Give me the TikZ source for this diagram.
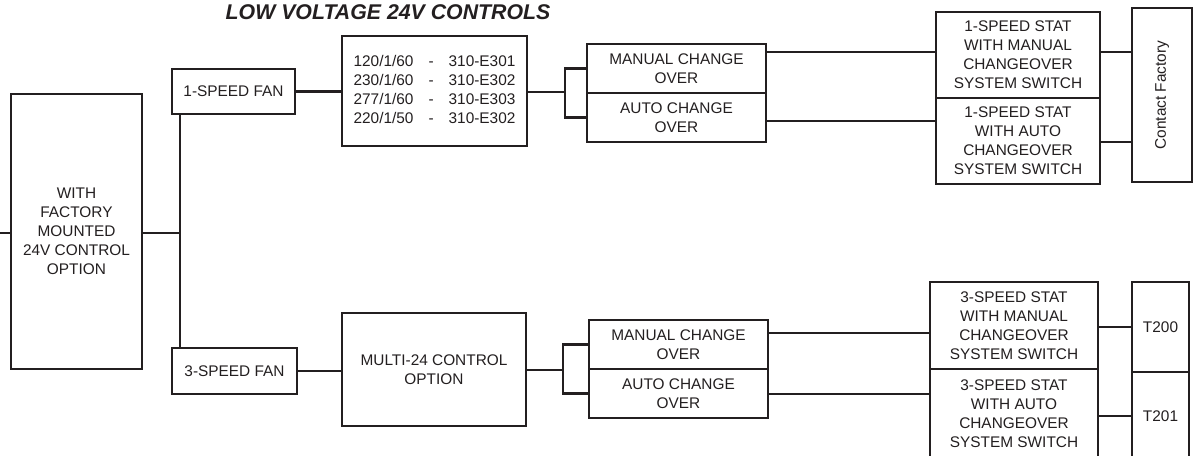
\documentclass[tikz,border=0pt]{standalone}
\usepackage{fontspec}
\setmainfont{Liberation Sans}
\usetikzlibrary{calc}
\definecolor{ink}{HTML}{231F20}
\begin{document}
\begin{tikzpicture}[x=1pt,y=-1pt,
  box/.style={draw=ink, line width=2.2pt, inner sep=0pt, align=center,
    font=\fontsize{15.4}{19}\selectfont, text=ink},
  wire/.style={draw=ink, line width=2.2pt, line cap=rect},
  titletext/.style={font=\fontsize{21.3}{24}\selectfont\bfseries\itshape, text=ink, inner sep=0pt}]
\clip (0,0) rectangle (1198,455);
\fill[white] (0,0) rectangle (1198,455);

\node[titletext] (title) at (388,12) {LOW VOLTAGE 24V CONTROLS};

\node[box, minimum width=131pt, minimum height=275pt] (main) at (76.5,231.5) {WITH\\FACTORY\\MOUNTED\\24V CONTROL\\OPTION};
\node[box, minimum width=123pt, minimum height=45pt] (fan1) at (233.5,91.5) {1-SPEED FAN};
\node[box, minimum width=125pt, minimum height=46pt] (fan3) at (234.5,371) {3-SPEED FAN};
\node[box, minimum width=185pt, minimum height=110pt] (volt) at (434.5,91)
  {\begin{tabular}{@{}l@{\hspace{15pt}}c@{\hspace{15pt}}l@{}}
   120/1/60 & - & 310-E301\\
   230/1/60 & - & 310-E302\\
   277/1/60 & - & 310-E303\\
   220/1/50 & - & 310-E302
   \end{tabular}};
\node[box, minimum width=179pt, minimum height=49pt] (manual1) at (676.5,68.5) {MANUAL CHANGE\\OVER};
\node[box, minimum width=179pt, minimum height=49pt] (auto1) at (676.5,117.5) {AUTO CHANGE\\OVER};
\node[box, minimum width=164pt, minimum height=86pt] (stat1m) at (1018,55) {1-SPEED STAT\\WITH MANUAL\\CHANGEOVER\\SYSTEM SWITCH};
\node[box, minimum width=164pt, minimum height=86pt] (stat1a) at (1018,141) {1-SPEED STAT\\WITH AUTO\\CHANGEOVER\\SYSTEM SWITCH};
\node[box, minimum width=60pt, minimum height=174pt] (cf) at (1162,95) {};
\node[text=ink, font=\fontsize{15.4}{19}\selectfont, rotate=90, inner sep=0pt] (cft) at (cf.center) {Contact Factory};

\node[box, minimum width=184pt, minimum height=113pt] (multi) at (434,369.5) {MULTI-24 CONTROL\\OPTION};
\node[box, minimum width=179pt, minimum height=49pt] (manual3) at (678.5,344.5) {MANUAL CHANGE\\OVER};
\node[box, minimum width=179pt, minimum height=49pt] (auto3) at (678.5,393.5) {AUTO CHANGE\\OVER};
\node[box, minimum width=168pt, minimum height=87pt] (stat3m) at (1014,325.5) {3-SPEED STAT\\WITH MANUAL\\CHANGEOVER\\SYSTEM SWITCH};
\node[box, minimum width=168pt, minimum height=89pt] (stat3a) at (1014,413.5) {3-SPEED STAT\\WITH AUTO\\CHANGEOVER\\SYSTEM SWITCH};
\node[box, minimum width=57pt, minimum height=90pt] (t200) at (1160.5,327) {T200};
\node[box, minimum width=57pt, minimum height=89pt] (t201) at (1160.5,416.5) {T201};

% level coordinates
\coordinate (in) at (0,233);
\coordinate (bus) at (180,233);
\coordinate (brk1) at (565,92);
\coordinate (brk3) at (563,370);
\coordinate (y52) at (0,52);
\coordinate (y121) at (0,121);
\coordinate (y142) at (0,142);
\coordinate (y333) at (0,333);
\coordinate (y394) at (0,394);
\coordinate (y327) at (0,327);
\coordinate (y416) at (0,416);

\draw[wire] (in) -- (in -| main.west);
\draw[wire] (main.east |- bus) -- (bus);
\draw[wire] (fan1.south -| bus) -- (fan3.north -| bus);
\draw[wire] (fan1.east) -- (fan1.east -| volt.west);
\draw[wire] (volt.east |- brk1) -- (brk1);
\draw[wire] (manual1.west) -| (brk1);
\draw[wire] (auto1.west) -| (brk1);
\draw[wire] (manual1.east |- y52) -- (stat1m.west |- y52);
\draw[wire] (auto1.east |- y121) -- (stat1a.west |- y121);
\draw[wire] (stat1m.east |- y52) -- (cf.west |- y52);
\draw[wire] (stat1a.east |- y142) -- (cf.west |- y142);

\draw[wire] (fan3.east) -- (fan3.east -| multi.west);
\draw[wire] (multi.east |- brk3) -- (brk3);
\draw[wire] (manual3.west) -| (brk3);
\draw[wire] (auto3.west) -| (brk3);
\draw[wire] (manual3.east |- y333) -- (stat3m.west |- y333);
\draw[wire] (auto3.east |- y394) -- (stat3a.west |- y394);
\draw[wire] (stat3m.east |- y327) -- (t200.west |- y327);
\draw[wire] (stat3a.east |- y416) -- (t201.west |- y416);
\end{tikzpicture}
\end{document}
